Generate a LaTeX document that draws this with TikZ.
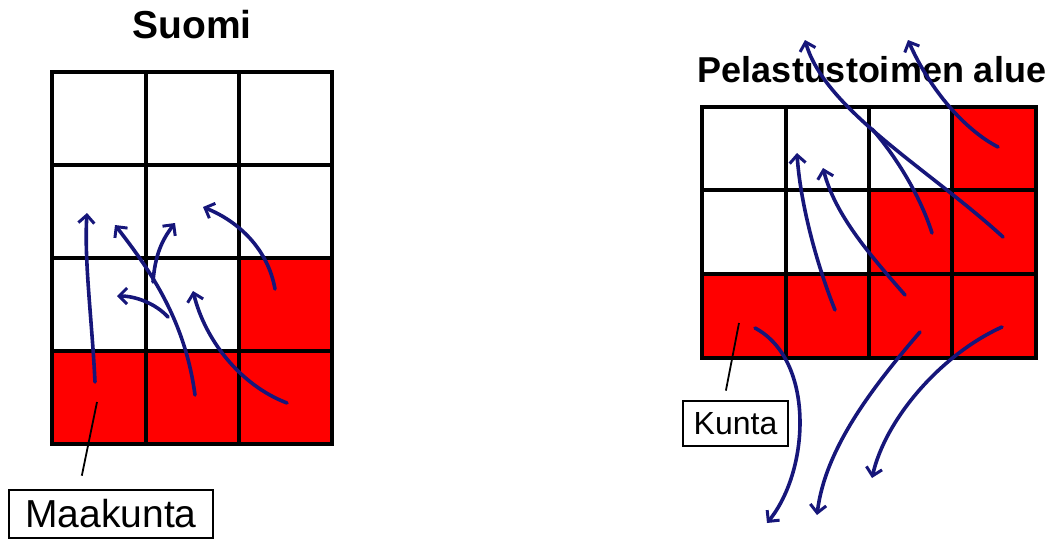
\documentclass[tikz,border=0pt]{standalone}
\usepackage{fontspec}
\setmainfont{Liberation Sans}
\usetikzlibrary{arrows.meta}
\definecolor{flowblue}{RGB}{22,22,122}
\definecolor{regionred}{RGB}{255,0,0}
\tikzset{
  gridline/.style={line width=3.8pt, line cap=rect},
  redcell/.style={fill=regionred},
  flow/.style={draw=flowblue, line width=3.6pt, line cap=round,
    -{Straight Barb[length=8pt, width=16pt, line width=3pt]}},
  flowjoin/.style={draw=flowblue, line width=3.6pt, line cap=round},
  title/.style={font=\bfseries\fontsize{39}{42}\selectfont, anchor=base, inner sep=0pt},
  labelbox/.style={draw, line width=1.2pt, inner sep=0pt},
  pointer/.style={line width=1.8pt}
}
\begin{document}
\begin{tikzpicture}[x=1pt, y=-1pt]
\useasboundingbox (0,0) rectangle (1053,541);

% ---- Suomi: 3 x 4 grid of maakunnat ----
\fill[redcell] (52,351) rectangle (332,444);
\fill[redcell] (239,258) rectangle (332,351);
\foreach \x in {52,146,239,332} \draw[gridline] (\x,72) -- (\x,444);
\foreach \y in {72,165,258,351,444} \draw[gridline] (52,\y) -- (332,\y);
\node[title] (suomi) at (192,38) {Suomi};

% ---- Pelastustoimen alue: 4 x 3 grid of kunnat ----
\fill[redcell] (952,107) rectangle (1036,190);
\fill[redcell] (869,190) rectangle (1036,274);
\fill[redcell] (702,274) rectangle (1036,358);
\foreach \x in {702,786,869,952,1036} \draw[gridline] (\x,107) -- (\x,358);
\foreach \y in {107,190,274,358} \draw[gridline] (702,\y) -- (1036,\y);
\node[title, font=\bfseries\fontsize{36}{40}\selectfont] (pelastus) at (872,82) {Pelastustoimen alue};

% ---- labels ----
\node[labelbox, minimum width=204pt, minimum height=48pt,
      font=\fontsize{39}{42}\selectfont] (maakunta) at (111,514) {Maakunta};
\coordinate (mpoint) at (97,402);
\draw[pointer, shorten >=14pt] (mpoint) -- (maakunta.north -| 79,0);

\node[labelbox, minimum width=105pt, minimum height=45pt,
      font=\fontsize{32}{36}\selectfont] (kunta) at (735.5,423.5) {Kunta};
\coordinate (kpoint) at (739,323);
\draw[pointer, shorten >=10pt] (kpoint) -- (kunta.north -| 724,0);

% ---- flows inside Suomi ----
\coordinate (s1a) at (95,382);   \coordinate (s1b) at (87,213);
\coordinate (s2a) at (195,395);  \coordinate (s2b) at (115,225);
\coordinate (s3a) at (168,317);  \coordinate (s3b) at (117,296);
\coordinate (s4a) at (153,282);  \coordinate (s4b) at (175,223);
\coordinate (s5a) at (287,403);  \coordinate (s5b) at (193,291);
\coordinate (s6a) at (275,289);  \coordinate (s6b) at (203,207);
\draw[flow] (s1a) .. controls (92,320) and (84,260) .. (s1b);
\draw[flow] (s2a) .. controls (185,320) and (150,270) .. (s2b);
\draw[flow] (s3a) .. controls (155,303) and (135,296) .. (s3b);
\draw[flow] (s4a) .. controls (155,255) and (162,240) .. (s4b);
\draw[flow] (s5a) .. controls (240,385) and (205,340) .. (s5b);
\draw[flow] (s6a) .. controls (268,250) and (240,222) .. (s6b);

% ---- flows of Pelastustoimen alue ----
\coordinate (pAa) at (998,147);  \coordinate (pAb) at (908,40);
\coordinate (pBa) at (1003,237); \coordinate (pBb) at (805,40);
\coordinate (pCa) at (932,233);  \coordinate (pjoin) at (872,129);
\coordinate (pDa) at (835,310);  \coordinate (pDb) at (797,153);
\coordinate (pEa) at (905,295);  \coordinate (pEb) at (823,168);
\coordinate (pFa) at (755,328);  \coordinate (pFb) at (767,523);
\coordinate (pGa) at (920,332);  \coordinate (pGb) at (817,515);
\coordinate (pHa) at (1002,327); \coordinate (pHb) at (872,478);
\draw[flow] (pAa) .. controls (965,130) and (930,90) .. (pAb);
\draw[flow] (pBa) .. controls (930,170) and (825,110) .. (pBb);
\draw[flowjoin] (pCa) .. controls (920,195) and (895,155) .. (pjoin);
\draw[flow] (pDa) .. controls (815,260) and (800,200) .. (pDb);
\draw[flow] (pEa) .. controls (870,255) and (835,215) .. (pEb);
\draw[flow] (pFa) .. controls (815,360) and (810,470) .. (pFb);
\draw[flow] (pGa) .. controls (870,390) and (825,450) .. (pGb);
\draw[flow] (pHa) .. controls (940,355) and (885,420) .. (pHb);
\end{tikzpicture}
\end{document}
